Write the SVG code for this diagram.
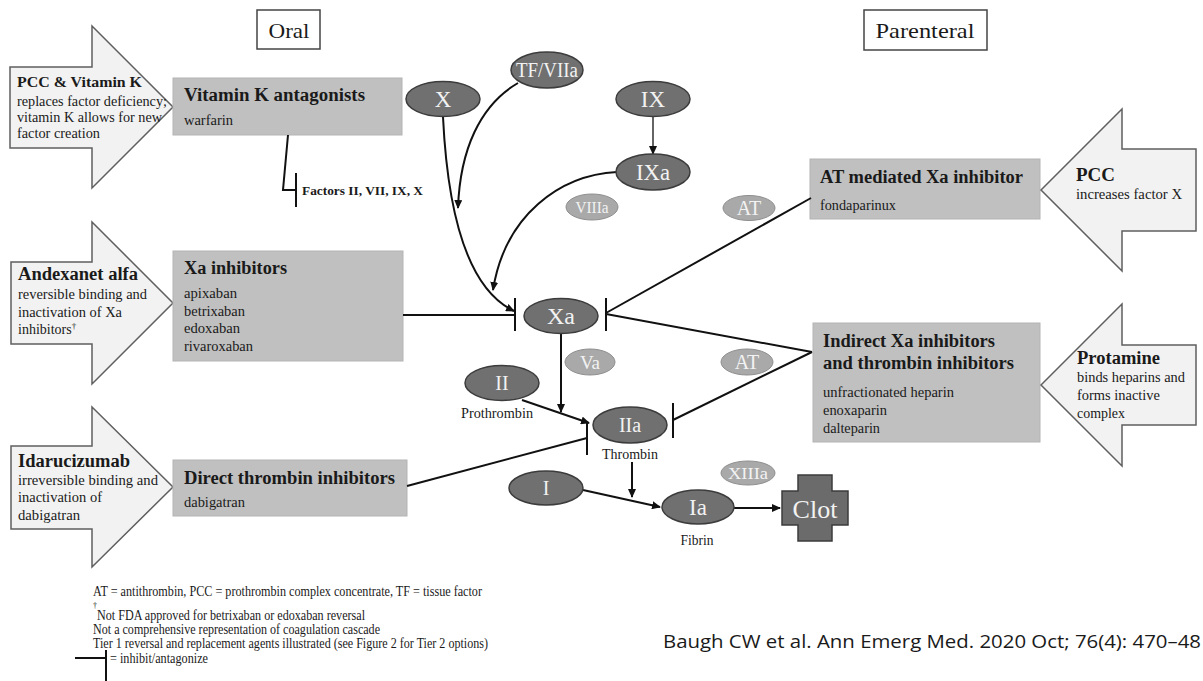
<svg xmlns="http://www.w3.org/2000/svg" width="1203" height="681" viewBox="0 0 1203 681">
<style>
.serif{font-family:"Liberation Serif","Times New Roman",serif;fill:#1a1a1a}
.b{font-weight:bold}
.hdr{font-size:22px}
.ttl{font-size:18px;font-weight:bold}
.txt{font-size:14px}
.arrow{fill:#f2f2f2;stroke:#5f5f5f;stroke-width:1.5}
.box{fill:#c0c0c0;stroke:#b4b4b4;stroke-width:1}
.hbox{fill:#ffffff;stroke:#444;stroke-width:1.5}
.dk{fill:#707070;stroke:#3c3c3c;stroke-width:1.5}
.lt{fill:#a9a9a9;stroke:#8e8e8e;stroke-width:1}
.el{font-family:"Liberation Serif","Times New Roman",serif;fill:#f2f2f2;text-anchor:middle}
.ln{fill:none;stroke:#111;stroke-width:2}
.ln1{fill:none;stroke:#111;stroke-width:1.3}
.small{font-size:14px}
.foot{font-size:14px}
</style>
<defs>
<marker id="ah" markerWidth="9" markerHeight="8" refX="8" refY="4" orient="auto" markerUnits="userSpaceOnUse">
<path d="M0,0 L9,4 L0,8 Z" fill="#111"/>
</marker>
</defs>

<g id="hdr-oral">
<rect class="hbox" x="257" y="10" width="63" height="39"/>
<text class="serif hdr" x="289" y="38" text-anchor="middle" textLength="41" lengthAdjust="spacingAndGlyphs">Oral</text>
</g>
<g id="hdr-parenteral">
<rect class="hbox" x="864" y="10" width="123" height="40"/>
<text class="serif hdr" x="925" y="38" text-anchor="middle" textLength="99" lengthAdjust="spacingAndGlyphs">Parenteral</text>
</g>

<g id="arrow-pcc-vitk">
<polygon class="arrow" points="10,67 92,67 92,26 173,107 92,188 92,148 10,148"/>
<text class="serif b" x="17" y="87" font-size="15" textLength="125" lengthAdjust="spacingAndGlyphs">PCC &amp; Vitamin  K</text>
<text class="serif txt" x="17" y="106" textLength="150" lengthAdjust="spacingAndGlyphs">replaces factor deficiency;</text>
<text class="serif txt" x="17" y="122" textLength="145" lengthAdjust="spacingAndGlyphs">vitamin K allows for new</text>
<text class="serif txt" x="17" y="138" textLength="83" lengthAdjust="spacingAndGlyphs">factor creation</text>
</g>

<g id="arrow-andexanet">
<polygon class="arrow" points="11,262 92,262 92,222 173,303 92,384 92,344 11,344"/>
<text class="serif b" x="18" y="280" font-size="18" textLength="120" lengthAdjust="spacingAndGlyphs">Andexanet alfa</text>
<text class="serif txt" x="18" y="299" textLength="129" lengthAdjust="spacingAndGlyphs">reversible binding  and</text>
<text class="serif txt" x="18" y="317" textLength="104" lengthAdjust="spacingAndGlyphs">inactivation  of Xa</text>
<text class="serif txt" x="18" y="334">inhibitors<tspan font-size="9" dy="-5">†</tspan></text>
</g>

<g id="arrow-idarucizumab">
<polygon class="arrow" points="11,446 92,446 92,407 173,487 92,567 92,529 11,529"/>
<text class="serif b" x="18" y="467" font-size="18" textLength="112" lengthAdjust="spacingAndGlyphs">Idarucizumab</text>
<text class="serif txt" x="18" y="485" textLength="140" lengthAdjust="spacingAndGlyphs">irreversible binding  and</text>
<text class="serif txt" x="18" y="502" textLength="84" lengthAdjust="spacingAndGlyphs">inactivation  of</text>
<text class="serif txt" x="18" y="520" textLength="62" lengthAdjust="spacingAndGlyphs">dabigatran</text>
</g>

<g id="box-vka">
<rect class="box" x="173" y="78" width="229" height="57"/>
<text class="serif ttl" x="184" y="101" textLength="181" lengthAdjust="spacingAndGlyphs">Vitamin K antagonists</text>
<text class="serif txt" x="184" y="125" textLength="49" lengthAdjust="spacingAndGlyphs">warfarin</text>
</g>

<g id="box-xa-inhibitors">
<rect class="box" x="173" y="251" width="230" height="110"/>
<text class="serif ttl" x="184" y="274" textLength="103" lengthAdjust="spacingAndGlyphs">Xa inhibitors</text>
<text class="serif txt" x="184" y="298" textLength="53" lengthAdjust="spacingAndGlyphs">apixaban</text>
<text class="serif txt" x="184" y="316" textLength="61" lengthAdjust="spacingAndGlyphs">betrixaban</text>
<text class="serif txt" x="184" y="333" textLength="56" lengthAdjust="spacingAndGlyphs">edoxaban</text>
<text class="serif txt" x="184" y="351" textLength="69" lengthAdjust="spacingAndGlyphs">rivaroxaban</text>
</g>

<g id="box-dti">
<rect class="box" x="173" y="460" width="234" height="56"/>
<text class="serif ttl" x="184" y="484" textLength="211" lengthAdjust="spacingAndGlyphs">Direct thrombin  inhibitors</text>
<text class="serif txt" x="184" y="507" textLength="61" lengthAdjust="spacingAndGlyphs">dabigatran</text>
</g>

<g id="box-at-xa">
<rect class="box" x="810" y="159" width="230" height="60"/>
<text class="serif ttl" x="820" y="183" textLength="203" lengthAdjust="spacingAndGlyphs">AT mediated Xa inhibitor</text>
<text class="serif txt" x="820" y="210" textLength="76" lengthAdjust="spacingAndGlyphs">fondaparinux</text>
</g>

<g id="box-indirect">
<rect class="box" x="813" y="323" width="227" height="119"/>
<text class="serif ttl" x="823" y="347" textLength="172" lengthAdjust="spacingAndGlyphs">Indirect Xa inhibitors</text>
<text class="serif ttl" x="823" y="369" textLength="191" lengthAdjust="spacingAndGlyphs">and thrombin inhibitors</text>
<text class="serif txt" x="823" y="397" textLength="131" lengthAdjust="spacingAndGlyphs">unfractionated heparin</text>
<text class="serif txt" x="823" y="415" textLength="64" lengthAdjust="spacingAndGlyphs">enoxaparin</text>
<text class="serif txt" x="823" y="433" textLength="57" lengthAdjust="spacingAndGlyphs">dalteparin</text>
</g>

<g id="arrow-pcc">
<polygon class="arrow" points="1041,190 1122,109 1122,149 1196,149 1196,231 1122,231 1122,271"/>
<text class="serif b" x="1076" y="181" font-size="18" textLength="39" lengthAdjust="spacingAndGlyphs">PCC</text>
<text class="serif txt" x="1076" y="199" textLength="106" lengthAdjust="spacingAndGlyphs">increases factor X</text>
</g>

<g id="arrow-protamine">
<polygon class="arrow" points="1041,385 1122,304 1122,345 1196,345 1196,425 1122,425 1122,466"/>
<text class="serif b" x="1077" y="364" font-size="18" textLength="83" lengthAdjust="spacingAndGlyphs">Protamine</text>
<text class="serif txt" x="1077" y="382" textLength="108" lengthAdjust="spacingAndGlyphs">binds heparins and</text>
<text class="serif txt" x="1077" y="400" textLength="83" lengthAdjust="spacingAndGlyphs">forms inactive</text>
<text class="serif txt" x="1077" y="418" textLength="48" lengthAdjust="spacingAndGlyphs">complex</text>
</g>

<g id="connectors">
<polyline class="ln" points="288,135 283,190 296,190"/>
<line class="ln" x1="296" y1="173" x2="296" y2="207"/>
<path class="ln" d="M443,117 C448,220 470,290 514,311" marker-end="url(#ah)"/>
<path class="ln" d="M518,83 C480,105 460,150 458,208" marker-end="url(#ah)"/>
<path class="ln" d="M617,172 C560,175 505,215 493,290" marker-end="url(#ah)"/>
<line class="ln1" x1="653" y1="117" x2="653" y2="154" marker-end="url(#ah)"/>
<line class="ln" x1="403" y1="315" x2="515" y2="315"/>
<line class="ln" x1="515" y1="298" x2="515" y2="331"/>
<line class="ln" x1="811" y1="198" x2="606" y2="313"/>
<line class="ln" x1="812" y1="352" x2="606" y2="314"/>
<line class="ln" x1="606" y1="298" x2="606" y2="331"/>
<line class="ln" x1="812" y1="352" x2="673" y2="420"/>
<line class="ln" x1="673" y1="403" x2="673" y2="438"/>
<line class="ln" x1="561" y1="334" x2="561" y2="412" marker-end="url(#ah)"/>
<line class="ln" x1="522" y1="400" x2="589" y2="423" marker-end="url(#ah)"/>
<line class="ln" x1="407" y1="486" x2="587" y2="438"/>
<line class="ln" x1="587" y1="421" x2="587" y2="455"/>
<line class="ln" x1="632" y1="462" x2="632" y2="497" marker-end="url(#ah)"/>
<line class="ln" x1="583" y1="490" x2="660" y2="507" marker-end="url(#ah)"/>
<line class="ln" x1="734" y1="508" x2="780" y2="508" marker-end="url(#ah)"/>
</g>
<text class="serif b" x="302" y="195" font-size="12" textLength="121" lengthAdjust="spacingAndGlyphs">Factors II, VII, IX, X</text>

<g id="node-X"><ellipse class="dk" cx="443" cy="99" rx="37" ry="17.5"/><text class="el" x="443" y="107" font-size="23">X</text></g>
<g id="node-TFVIIa"><ellipse class="dk" cx="547" cy="70" rx="36" ry="18"/><text class="el" x="547" y="77" font-size="20" textLength="62" lengthAdjust="spacingAndGlyphs">TF/VIIa</text></g>
<g id="node-IX"><ellipse class="dk" cx="653" cy="99" rx="37" ry="17.5"/><text class="el" x="653" y="107" font-size="23">IX</text></g>
<g id="node-IXa"><ellipse class="dk" cx="653" cy="172" rx="37" ry="18"/><text class="el" x="653" y="180" font-size="23" textLength="34" lengthAdjust="spacingAndGlyphs">IXa</text></g>
<g id="node-VIIIa"><ellipse class="lt" cx="592" cy="207" rx="26" ry="13"/><text class="el" x="592" y="213" font-size="16" textLength="33" lengthAdjust="spacingAndGlyphs">VIIIa</text></g>
<g id="node-AT1"><ellipse class="lt" cx="749" cy="208" rx="26" ry="12.5"/><text class="el" x="749" y="215" font-size="20">AT</text></g>
<g id="node-Xa"><ellipse class="dk" cx="561" cy="316" rx="37" ry="17.5"/><text class="el" x="561" y="324" font-size="23" textLength="28" lengthAdjust="spacingAndGlyphs">Xa</text></g>
<g id="node-Va"><ellipse class="lt" cx="590" cy="362" rx="25" ry="13"/><text class="el" x="590" y="369" font-size="19">Va</text></g>
<g id="node-AT2"><ellipse class="lt" cx="747" cy="362" rx="26" ry="13"/><text class="el" x="747" y="369" font-size="20">AT</text></g>
<g id="node-II"><ellipse class="dk" cx="502" cy="383" rx="37" ry="17.5"/><text class="el" x="502" y="390" font-size="20">II</text>
<text class="serif small" x="497" y="418" text-anchor="middle" textLength="72" lengthAdjust="spacingAndGlyphs">Prothrombin</text></g>
<g id="node-IIa"><ellipse class="dk" cx="630" cy="425" rx="37" ry="18"/><text class="el" x="630" y="432" font-size="20">IIa</text>
<text class="serif small" x="630" y="459" text-anchor="middle" textLength="56" lengthAdjust="spacingAndGlyphs">Thrombin</text></g>
<g id="node-XIIIa"><ellipse class="lt" cx="748" cy="473" rx="27" ry="12"/><text class="el" x="748" y="479" font-size="17" textLength="40" lengthAdjust="spacingAndGlyphs">XIIIa</text></g>
<g id="node-I"><ellipse class="dk" cx="546" cy="488" rx="37" ry="17"/><text class="el" x="546" y="495" font-size="20">I</text></g>
<g id="node-Ia"><ellipse class="dk" cx="698" cy="507" rx="36" ry="17"/><text class="el" x="698" y="515" font-size="23">Ia</text>
<text class="serif small" x="697" y="545" text-anchor="middle" textLength="33" lengthAdjust="spacingAndGlyphs">Fibrin</text></g>
<g id="node-Clot">
<polygon fill="#6b6b6b" stroke="#3c3c3c" stroke-width="1.5" points="798,475 832,475 832,491 848,491 848,525 832,525 832,541 798,541 798,525 782,525 782,491 798,491"/>
<text class="el" x="815" y="518" font-size="26">Clot</text>
</g>

<g id="legend">
<text class="serif foot" x="93" y="596" textLength="389" lengthAdjust="spacingAndGlyphs">AT = antithrombin, PCC = prothrombin complex concentrate, TF = tissue factor</text>
<text class="serif" x="93" y="608" font-size="8">†</text>
<text class="serif foot" x="97" y="620" textLength="268" lengthAdjust="spacingAndGlyphs">Not FDA approved for betrixaban or edoxaban reversal</text>
<text class="serif foot" x="93" y="634" textLength="287" lengthAdjust="spacingAndGlyphs">Not a comprehensive representation of coagulation cascade</text>
<text class="serif foot" x="93" y="648" textLength="395" lengthAdjust="spacingAndGlyphs">Tier 1 reversal and replacement agents illustrated (see Figure 2 for Tier 2 options)</text>
<line class="ln" x1="75" y1="658" x2="106" y2="658"/>
<line class="ln" x1="106" y1="650" x2="106" y2="681"/>
<text class="serif foot" x="110" y="663" textLength="98" lengthAdjust="spacingAndGlyphs">= inhibit/antagonize</text>
</g>

<g id="citation">
<text x="663" y="648" font-family="'Open Sans','Noto Sans',sans-serif" font-size="18" fill="#1a1a1a" textLength="538" lengthAdjust="spacingAndGlyphs">Baugh CW et al. Ann Emerg Med. 2020 Oct; 76(4): 470–48</text>
</g>
</svg>
